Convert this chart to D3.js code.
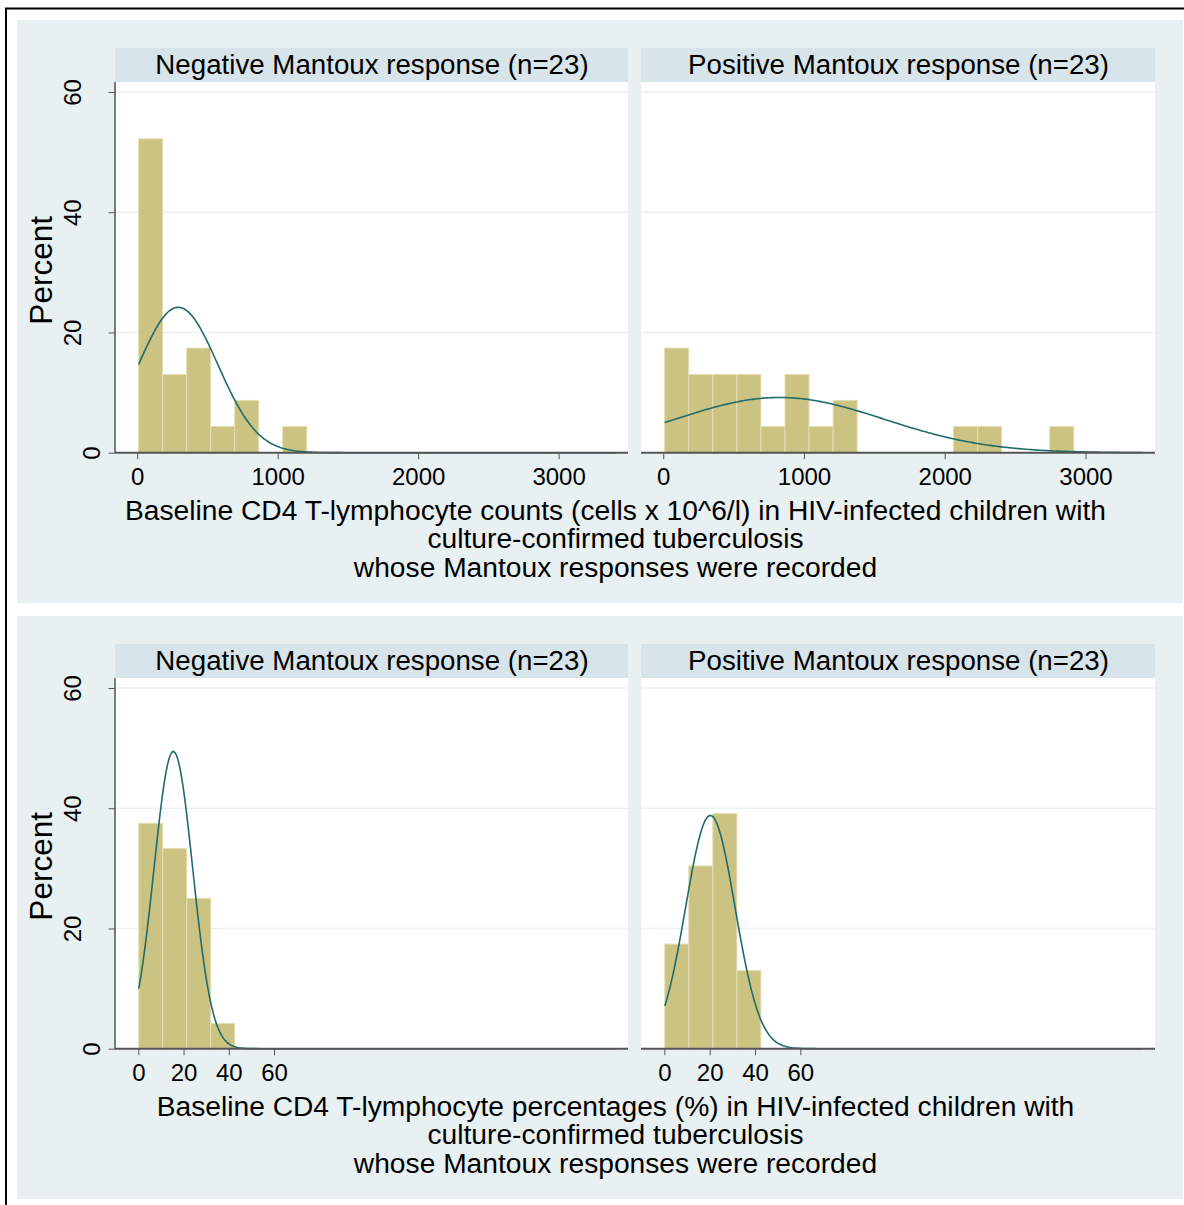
<!DOCTYPE html>
<html><head><meta charset="utf-8">
<script src="https://cdn.jsdelivr.net/npm/d3@7"></script>
<style>html,body{margin:0;padding:0;background:#fff;}svg{display:block;font-family:"Liberation Sans",Arial,sans-serif;}</style>
</head><body>
<script>
// ---------- data ----------
const stripTitles = ["Negative Mantoux response (n=23)", "Positive Mantoux response (n=23)"];
const yTicks = [0, 20, 40, 60];

// Row 1: CD4 counts
const countTicks = [0, 1000, 2000, 3000];
const countBinStart = 10;
const countBinWidth = 171;
const countNegPct = [52.2, 13.0, 17.4, 4.35, 8.7, 0, 4.35];
const countPosPct = [17.4, 13.0, 13.0, 13.0, 4.35, 13.0, 4.35, 8.7, 0, 0, 0, 0, 4.35, 4.35, 0, 0, 4.35];
const countNormalMean = [292, 827];
const countNormalSD = [282, 743];
const countCurveRange = [10, 3410];
const countTitle = ["Baseline CD4 T-lymphocyte counts (cells x 10^6/l) in HIV-infected children with",
                    "culture-confirmed tuberculosis",
                    "whose Mantoux responses were recorded"];

// Row 2: CD4 percentages
const pctTicks = [0, 20, 40, 60];
const pctBinStart = 0.2;
const pctBinWidth = 10.6;
const pctNegPct = [37.5, 33.3, 25.0, 4.2];
const pctPosPct = [17.4, 30.4, 39.1, 13.0];
const pctNormalMean = [15.5, 20.3];
const pctNormalSD = [8.55, 10.9];
const pctCurveRange = [0.2, 211];
const pctTitle = ["Baseline CD4 T-lymphocyte percentages (%) in HIV-infected children with",
                  "culture-confirmed tuberculosis",
                  "whose Mantoux responses were recorded"];

// ---------- drawing ----------
const W = 1184, H = 1205;
const svg = d3.select("body").append("svg").attr("width", W).attr("height", H);
svg.append("rect").attr("width", W).attr("height", H).attr("fill", "#fff");
// outer border
svg.append("rect").attr("x", 6).attr("y", 8.5).attr("width", 1200).attr("height", 1210)
  .attr("fill", "none").attr("stroke", "#000").attr("stroke-width", 2);

const C = {
  region: "#e8f0f2", strip: "#d7e4ea", bar: "#cbc381", barEdge: "#e4deb0",
  curve: "#216b6b", grid: "#eaf2f4", axis: "#555"
};

const rows = [
  {dy: 0, ticks: countTicks, xdom: [-158, 3494], binStart: countBinStart, binWidth: countBinWidth,
   pct: [countNegPct, countPosPct], mean: countNormalMean, sd: countNormalSD, curve: countCurveRange, title: countTitle},
  {dy: 596, ticks: pctTicks, xdom: [-10.3, 216.5], binStart: pctBinStart, binWidth: pctBinWidth,
   pct: [pctNegPct, pctPosPct], mean: pctNormalMean, sd: pctNormalSD, curve: pctCurveRange, title: pctTitle}
];

const panelX = [[115, 628], [641, 1155]];
const FONT = "Liberation Sans, Arial, sans-serif";

rows.forEach(row => {
  const g = svg.append("g").attr("transform", `translate(0,${row.dy})`);
  g.append("rect").attr("x", 17).attr("y", 20).attr("width", 1166).attr("height", 583).attr("fill", C.region);
  const plotTop = 82, plotBot = 452.7;
  const y = d3.scaleLinear().domain([0, 60]).range([plotBot, 92]);

  panelX.forEach((px, pi) => {
    const x = d3.scaleLinear().domain(row.xdom).range(px);
    // strip
    g.append("rect").attr("x", px[0]).attr("y", 48).attr("width", px[1] - px[0]).attr("height", plotTop - 48).attr("fill", C.strip);
    g.append("text").attr("x", (px[0] + px[1]) / 2 + 0.5).attr("y", 73.5).attr("text-anchor", "middle")
      .attr("font-size", 27.7).attr("fill", "#000").text(stripTitles[pi]);
    // plot area
    g.append("rect").attr("x", px[0]).attr("y", plotTop).attr("width", px[1] - px[0]).attr("height", plotBot - plotTop).attr("fill", "#fff");
    // grid lines
    g.selectAll(null).data(yTicks.filter(t => t > 0)).enter().append("line")
      .attr("x1", px[0]).attr("x2", px[1]).attr("y1", d => y(d)).attr("y2", d => y(d))
      .attr("stroke", C.grid).attr("stroke-width", 1.5);
    // bars
    const vals = row.pct[pi];
    g.selectAll(null).data(vals.map((v, i) => ({v, i})).filter(d => d.v > 0)).enter().append("rect")
      .attr("x", d => x(row.binStart + d.i * row.binWidth))
      .attr("width", d => x(row.binStart + (d.i + 1) * row.binWidth) - x(row.binStart + d.i * row.binWidth))
      .attr("y", d => y(d.v)).attr("height", d => y(0) - y(d.v))
      .attr("fill", C.bar).attr("stroke", C.barEdge).attr("stroke-width", 1);
    // normal density overlay (percent scale)
    const m = row.mean[pi], s = row.sd[pi];
    const dens = v => 100 * row.binWidth * Math.exp(-0.5 * ((v - m) / s) ** 2) / (s * Math.sqrt(2 * Math.PI));
    const xs = d3.range(0, 301).map(k => row.curve[0] + (row.curve[1] - row.curve[0]) * k / 300);
    g.append("path").datum(xs)
      .attr("d", d3.line().x(v => x(v)).y(v => y(dens(v))))
      .attr("fill", "none").attr("stroke", C.curve).attr("stroke-width", 1.6);
    // x axis
    const xa = g.append("g").attr("transform", `translate(0,${plotBot})`)
      .call(d3.axisBottom(x).tickValues(row.ticks).tickSize(6.5).tickPadding(5).tickFormat(d3.format("d")));
    xa.select(".domain").remove();
    xa.append("line").attr("x1", px[0]).attr("x2", px[1]).attr("stroke", C.axis).attr("stroke-width", 2);
    xa.selectAll(".tick line").attr("stroke", C.axis).attr("stroke-width", 1);
    xa.selectAll(".tick text").attr("font-size", 24).attr("fill", "#000").attr("font-family", FONT)
      .attr("dy", null).attr("y", 32.3);
    // y axis only in left panel
    if (pi === 0) {
      const ya = g.append("g").attr("transform", `translate(${px[0]},0)`)
        .call(d3.axisLeft(y).tickValues(yTicks).tickSize(6.5).tickFormat(d3.format("d")));
      ya.select(".domain").attr("d", `M0,${plotTop}V${plotBot}`).attr("stroke", "#000").attr("stroke-width", 1);
      ya.selectAll(".tick line").attr("stroke", C.axis);
      ya.selectAll(".tick text").attr("font-size", 24).attr("fill", "#000").attr("font-family", FONT)
        .attr("x", null).attr("dy", null).attr("text-anchor", "middle")
        .attr("transform", d => `translate(${d === 0 ? -15 : -34},0) rotate(-90)`).attr("y", 0);
      g.append("text").attr("transform", `translate(52,${(plotTop + plotBot) / 2 + 3}) rotate(-90)`)
        .attr("text-anchor", "middle").attr("font-size", 31.5).attr("fill", "#000").text("Percent");
    }
  });
  // x title
  row.title.forEach((t, i) => {
    g.append("text").attr("x", 615.5).attr("y", 520 + i * 28.3).attr("text-anchor", "middle")
      .attr("font-size", 28.2).attr("fill", "#000").text(t);
  });
});
</script>
</body></html>
